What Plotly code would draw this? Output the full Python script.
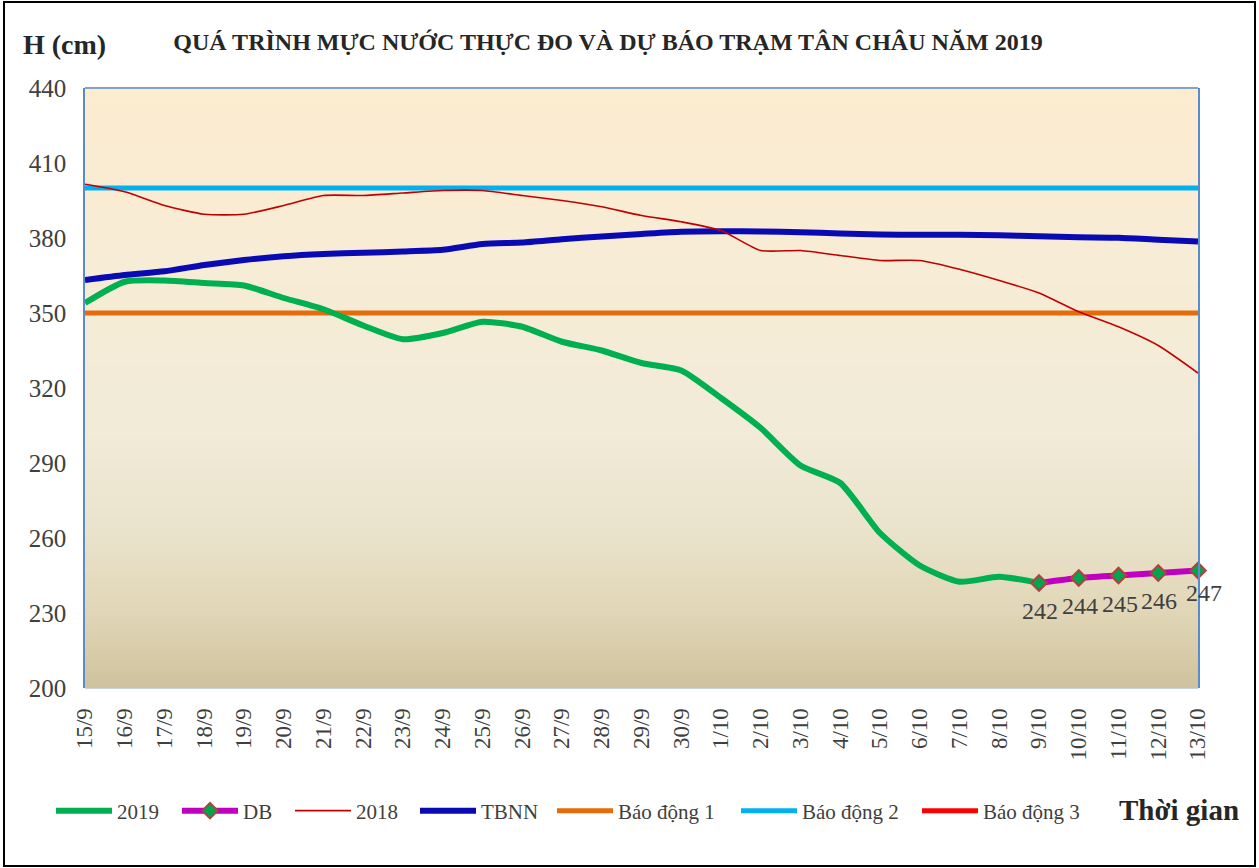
import plotly.graph_objects as go

# ---------------- data ----------------
categories = ["15/9", "16/9", "17/9", "18/9", "19/9", "20/9", "21/9", "22/9", "23/9",
              "24/9", "25/9", "26/9", "27/9", "28/9", "29/9", "30/9", "1/10", "2/10",
              "3/10", "4/10", "5/10", "6/10", "7/10", "8/10", "9/10", "10/10", "11/10",
              "12/10", "13/10"]

h_2019 = [354, 362.5, 363, 362, 361, 356, 351.5, 345, 339.5, 342, 346.5, 344.5, 338.5,
          335, 330, 327, 316, 304, 289, 282, 262, 249, 242.5, 244.5, 242]

db_categories = ["9/10", "10/10", "11/10", "12/10", "13/10"]
db_values = [242, 244, 245, 246, 247]

h_2018 = [401.5, 398.5, 393, 389.5, 389.5, 393, 397, 397, 398, 399, 399, 397, 395,
          392.5, 389, 386.5, 383, 375, 375, 373, 371, 371, 367.5, 363, 358, 350.5,
          344.5, 337, 326]

tbnn = [363.2, 365.2, 366.7, 369.2, 371.2, 372.7, 373.6, 374.1, 374.6, 375.3, 377.6,
        378.2, 379.5, 380.6, 381.6, 382.5, 382.7, 382.6, 382.3, 381.8, 381.4, 381.3,
        381.3, 381.1, 380.7, 380.3, 380.1, 379.3, 378.6]

bao_dong_1 = 350
bao_dong_2 = 400
bao_dong_3 = 450

y_ticks = [200, 230, 260, 290, 320, 350, 380, 410, 440]

# ---------------- layout constants ----------------
W, H = 1259, 868
L, R, T, B = 85, 61, 88, 180
PW, PH = W - L - R, H - T - B
FONT = "Liberation Serif, Times New Roman, serif"
TXT = "#404040"


def px_x(px):
    return (px - L) / PW


def px_y(py):
    return (H - B - py) / PH


fig = go.Figure()

# threshold lines
fig.add_trace(go.Scatter(x=[categories[0], categories[-1]], y=[bao_dong_1, bao_dong_1],
                         mode="lines", name="Báo động 1", legend="legend5",
                         line=dict(color="#E46C0A", width=5)))
fig.add_trace(go.Scatter(x=[categories[0], categories[-1]], y=[bao_dong_2, bao_dong_2],
                         mode="lines", name="Báo động 2", legend="legend6",
                         line=dict(color="#00B0F0", width=5)))
fig.add_trace(go.Scatter(x=[categories[0], categories[-1]], y=[bao_dong_3, bao_dong_3],
                         mode="lines", name="Báo động 3", legend="legend7",
                         line=dict(color="#FF0000", width=5)))

fig.add_trace(go.Scatter(x=categories, y=tbnn, mode="lines", name="TBNN", legend="legend4",
                         line=dict(color="#0A0AB4", width=6, shape="spline", smoothing=0.6)))
fig.add_trace(go.Scatter(x=categories, y=h_2018, mode="lines", name="2018", legend="legend3",
                         line=dict(color="#C00000", width=1.6, shape="spline", smoothing=0.6)))
fig.add_trace(go.Scatter(x=categories[:len(h_2019)], y=h_2019, mode="lines", name="2019",
                         legend="legend",
                         line=dict(color="#00B050", width=6, shape="spline", smoothing=0.6)))
fig.add_trace(go.Scatter(x=db_categories, y=db_values, mode="lines+markers", name="DB",
                         legend="legend2", cliponaxis=False,
                         line=dict(color="#C000C0", width=6, shape="spline", smoothing=0.6),
                         marker=dict(symbol="diamond", size=12, color="#00A550",
                                     line=dict(color="#B0413E", width=2))))

# data labels for the forecast
annotations = []
for i, (c, v) in enumerate(zip(db_categories, db_values)):
    last = i == len(db_values) - 1
    annotations.append(dict(x=c, y=v, xref="x", yref="y", text=str(v), showarrow=False,
                            xanchor="center", yanchor="middle",
                            xshift=6 if last else 1, yshift=-22 if last else -28,
                            font=dict(family=FONT, size=24, color=TXT)))

# gradient background bands
stops = [(0.0, (207, 194, 158)), (0.13, (225, 214, 183)), (0.263, (234, 227, 204)),
         (0.43, (241, 235, 216)), (0.647, (246, 236, 214)), (1.0, (252, 236, 208))]


def grad(f):
    for (f0, c0), (f1, c1) in zip(stops[:-1], stops[1:]):
        if f0 <= f <= f1:
            t = (f - f0) / (f1 - f0)
            return "rgb(%d,%d,%d)" % tuple(round(a + (b - a) * t) for a, b in zip(c0, c1))
    return "rgb(%d,%d,%d)" % stops[-1][1]


N = 150
shapes = []
for i in range(N):
    y0, y1 = i / N, (i + 1) / N
    shapes.append(dict(type="rect", xref="x domain", yref="y domain", x0=0, x1=1,
                       y0=y0, y1=y1 + 0.002, fillcolor=grad((y0 + y1) / 2),
                       line=dict(width=0), layer="below"))
# plot frame
shapes.append(dict(type="line", xref="x domain", yref="y domain", x0=0, x1=1, y0=1, y1=1,
                   line=dict(color="#5B8BCB", width=1.5)))
shapes.append(dict(type="line", xref="x domain", yref="y domain", x0=0, x1=1, y0=0, y1=0,
                   line=dict(color="#B9C3CF", width=1.5)))
# outer chart border
shapes.append(dict(type="rect", xref="paper", yref="paper",
                   x0=px_x(4), x1=px_x(1255), y0=px_y(866), y1=px_y(2),
                   line=dict(color="black", width=2), fillcolor="rgba(0,0,0,0)"))

legend_common = dict(orientation="h", xanchor="left", yanchor="middle",
                     bgcolor="rgba(0,0,0,0)", itemwidth=56,
                     font=dict(family=FONT, size=21, color=TXT), tracegroupgap=0)
leg_y = px_y(811)
legend_x = [51, 177, 290, 415, 552, 736, 917]
legends = {}
for i, lx in enumerate(legend_x):
    key = "legend" if i == 0 else "legend%d" % (i + 1)
    legends[key] = dict(legend_common, x=px_x(lx), y=leg_y)

annotations += [
    dict(text="<b>H (cm)</b>", xref="paper", yref="paper", x=px_x(21), y=px_y(45),
         xanchor="left", yanchor="middle", showarrow=False,
         font=dict(family=FONT, size=28, color="#262626")),
    dict(text="<b>Thời gian</b>", xref="paper", yref="paper", x=px_x(1117), y=px_y(810),
         xanchor="left", yanchor="middle", showarrow=False,
         font=dict(family=FONT, size=29, color="#262626")),
]

fig.update_layout(
    width=W, height=H,
    margin=dict(l=L, r=R, t=T, b=B),
    paper_bgcolor="white",
    plot_bgcolor="rgba(0,0,0,0)",
    showlegend=True,
    font=dict(family=FONT, color=TXT),
    title=dict(text="<b>QUÁ TRÌNH MỰC NƯỚC THỰC ĐO VÀ DỰ BÁO TRẠM TÂN CHÂU NĂM 2019</b>",
               x=608 / W, xanchor="center", y=1 - 42 / H, yanchor="middle",
               font=dict(family=FONT, size=24, color="#262626")),
    xaxis=dict(type="category", categoryorder="array", categoryarray=categories,
               range=[0, len(categories) - 1], showgrid=False, showline=False,
               zeroline=False, tickangle=-90, ticks="outside", ticklen=10,
               tickcolor="rgba(0,0,0,0)",
               tickfont=dict(family=FONT, size=23, color=TXT)),
    yaxis=dict(range=[200, 440], tickvals=y_ticks, showgrid=False, zeroline=False,
               showline=True, mirror=True, linecolor="#5B8BCB", linewidth=1.5,
               ticks="outside", ticklen=12, tickcolor="rgba(0,0,0,0)",
               tickfont=dict(family=FONT, size=25, color=TXT)),
    shapes=shapes,
    annotations=annotations,
    **legends,
)

fig.write_html("out.html", config={"displayModeBar": False},
               post_script="document.body.style.margin='0';")
